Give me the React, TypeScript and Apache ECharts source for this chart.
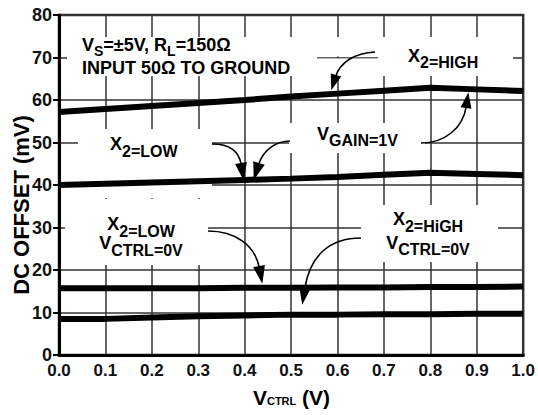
import React, { useEffect, useRef } from 'react';
import * as echarts from 'echarts';

const FONT = "'Liberation Sans', Arial, Helvetica, sans-serif";

// X axis: VCTRL (V)
const vctrl = [0, 0.1, 0.2, 0.3, 0.4, 0.5, 0.6, 0.7, 0.8, 0.9, 1.0];
// DC offset (mV) curves
const x2HighVgain1 = [57.2, 57.9, 58.6, 59.3, 60.0, 60.8, 61.5, 62.2, 62.9, 62.5, 62.1];
const x2LowVgain1 = [40.0, 40.3, 40.6, 40.9, 41.2, 41.5, 41.9, 42.4, 42.9, 42.6, 42.3];
const x2LowVctrl0 = [15.7, 15.7, 15.7, 15.7, 15.8, 15.8, 15.9, 15.9, 16.0, 16.0, 16.1];
const x2HighVctrl0 = [8.5, 8.5, 8.8, 9.1, 9.3, 9.5, 9.5, 9.6, 9.6, 9.7, 9.7];
const curves = [x2HighVgain1, x2LowVgain1, x2LowVctrl0, x2HighVctrl0];

const M = { fontSize: 18, fontWeight: 'bold', fontFamily: FONT, lineHeight: 20, verticalAlign: 'top', fill: '#000' };
const S = { fontSize: 16, fontWeight: 'bold', fontFamily: FONT, lineHeight: 16, padding: [8, 0, 0, 0], verticalAlign: 'top', fill: '#000' };
const S2 = { fontSize: 14, fontWeight: 'bold', fontFamily: FONT, lineHeight: 14, padding: [8, 0, 0, 0], verticalAlign: 'top', fill: '#000' };

function label(x: number, y: number, text: string, align: string = 'left') {
  return {
    type: 'text', x, y, z: 6, silent: true,
    style: { text, rich: { m: M, s: S, t: S2 }, align, verticalAlign: 'top', fill: '#000' },
  };
}

function whiteBox(x: number, y: number, w: number, h: number) {
  return { type: 'rect', z: 1, silent: true, shape: { x, y, width: w, height: h }, style: { fill: '#fff' } };
}

function arrow(p0: number[], c1: number[], c2: number[], end: number[], len = 18, w = 12) {
  const dx = end[0] - c2[0], dy = end[1] - c2[1];
  const n = Math.hypot(dx, dy);
  const ux = dx / n, uy = dy / n;
  const tip = [end[0] + ux * len, end[1] + uy * len];
  const px = -uy, py = ux;
  return [
    {
      type: 'bezierCurve', z: 6, silent: true,
      shape: { x1: p0[0], y1: p0[1], cpx1: c1[0], cpy1: c1[1], cpx2: c2[0], cpy2: c2[1], x2: end[0] + ux * 2, y2: end[1] + uy * 2 },
      style: { stroke: '#000', lineWidth: 1.6, fill: null },
    },
    {
      type: 'polygon', z: 6, silent: true,
      shape: { points: [[end[0] + px * w / 2, end[1] + py * w / 2], tip, [end[0] - px * w / 2, end[1] - py * w / 2]] },
      style: { fill: '#000' },
    },
  ];
}

export default function App() {
  const ref = useRef<HTMLDivElement>(null);
  useEffect(() => {
    const chart = echarts.init(ref.current!, null, { renderer: 'svg' });
    const axisLabelBase = { fontWeight: 'bold', fontFamily: FONT, color: '#111' };
    const split = { show: true, lineStyle: { color: '#333', width: 1.5 } };
    chart.setOption({
      animation: false,
      backgroundColor: '#fff',
      grid: { left: 59, right: 14, top: 15, bottom: 60, show: true, borderColor: '#333', borderWidth: 2.5 },
      xAxis: {
        type: 'value', min: 0, max: 1, interval: 0.1,
        axisLine: { show: true, lineStyle: { color: '#000', width: 3 } },
        axisTick: { show: false },
        axisLabel: { ...axisLabelBase, fontSize: 17, margin: 7, formatter: (v: number) => v.toFixed(1) },
        splitLine: split,
      },
      yAxis: {
        type: 'value', min: 0, max: 80, interval: 10,
        axisLine: { show: true, lineStyle: { color: '#000', width: 3 } },
        axisTick: { show: true, length: 6, lineStyle: { color: '#000', width: 2 } },
        axisLabel: { ...axisLabelBase, fontSize: 18, margin: 7 },
        splitLine: split,
      },
      series: curves.map((c) => ({
        type: 'line', z: 3, silent: true, symbol: 'none',
        data: vctrl.map((x, i) => [x, c[i]]),
        lineStyle: { color: '#000', width: 6 },
      })),
      graphic: [
        whiteBox(67, 37, 250, 39),
        whiteBox(378, 37, 135, 39),
        whiteBox(317, 37, 61, 19.5),
        whiteBox(317, 58.5, 61, 17.5),
        whiteBox(78, 129, 134, 69),
        whiteBox(289, 123, 136, 30),
        whiteBox(65, 199, 143, 66),
        whiteBox(361, 205, 137, 57),
        label(82, 36, '{m|V}{t|S}{m|=±5V, R}{t|L}{m|=150Ω}'),
        label(82, 59, '{m|INPUT 50Ω TO GROUND}'),
        label(408, 46.5, '{m|X}{s|2=HIGH}'),
        label(110, 135, '{m|X}{s|2=LOW}'),
        label(317, 124.5, '{m|V}{s|GAIN=1V}'),
        label(141, 215, '{m|X}{s|2=LOW}', 'center'),
        label(141, 234, '{m|V}{s|CTRL=0V}', 'center'),
        label(428, 210, '{m|X}{s|2=HiGH}', 'center'),
        label(428, 233.5, '{m|V}{s|CTRL=0V}', 'center'),
        ...arrow([375, 52], [355, 53], [340, 62], [336, 75], 16, 11),
        ...arrow([421, 143], [445, 143], [463, 128], [466, 108], 16, 11),
        ...arrow([212, 144], [228, 144], [239, 150], [241, 163]),
        ...arrow([290, 141], [276, 141], [263, 150], [259, 163]),
        ...arrow([208, 231], [235, 231], [255, 245], [259, 266]),
        ...arrow([361, 238], [330, 238], [310, 255], [305, 287]),
        {
          type: 'text', x: 291.5, y: 386.5, z: 6, silent: true,
          style: {
            text: '{m|V}{s|CTRL}{m| (V)}',
            align: 'center', verticalAlign: 'top',
            rich: {
              m: { fontSize: 21, fontWeight: 'bold', fontFamily: FONT, lineHeight: 22, verticalAlign: 'top', fill: '#000' },
              s: { fontSize: 11, fontWeight: 'bold', fontFamily: FONT, lineHeight: 11, padding: [9, 0, 0, 0], verticalAlign: 'top', fill: '#000' },
            },
          },
        },
        {
          type: 'text', x: 21, y: 205, rotation: Math.PI / 2, z: 6, silent: true,
          style: {
            text: 'DC OFFSET (mV)', align: 'center', verticalAlign: 'middle',
            font: `bold 22px ${FONT}`, fill: '#000',
          },
        },
      ],
    });
    return () => chart.dispose();
  }, []);
  return <div ref={ref} style={{ position: 'fixed', left: 0, top: 0, width: 538, height: 415 }} />;
}
